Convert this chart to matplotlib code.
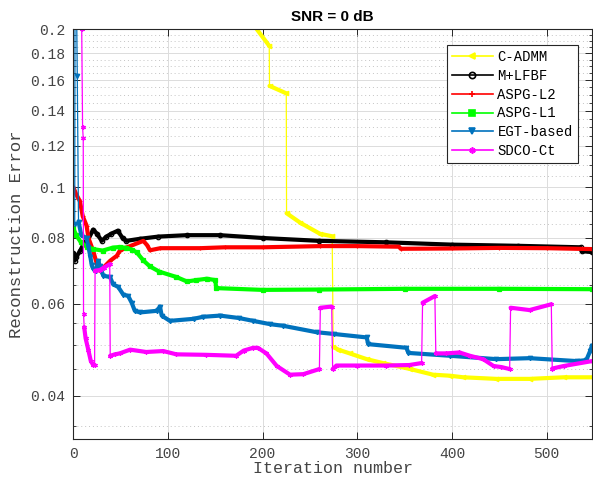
import numpy as np
import matplotlib
matplotlib.use("Agg")
import matplotlib.pyplot as plt
from matplotlib.lines import Line2D
from matplotlib.ticker import FixedLocator, FixedFormatter, NullFormatter

# ---- data (iteration, reconstruction error) ----
cadmm_x = [193, 207, 207.3, 225, 225.3, 240, 260.6, 273.5, 274.6, 280, 292, 310, 327, 356, 380,
           398, 412, 447, 482, 518, 548]
cadmm_y = [0.201, 0.186, 0.156, 0.151, 0.0892, 0.0855, 0.0815, 0.0806, 0.0496, 0.049, 0.0482,
           0.047, 0.0462, 0.045, 0.0439, 0.0437, 0.0434, 0.0431, 0.0431, 0.0434, 0.0434]

mlfbf_x = [0, 1.5, 3, 7, 12, 15, 21, 25, 30, 35, 40, 47, 52, 56, 70, 90, 120, 155, 200, 260, 330,
           400, 470, 536, 537, 548]
mlfbf_y = [0.0748, 0.0724, 0.0735, 0.0755, 0.0787, 0.079, 0.083, 0.0815, 0.079, 0.0805, 0.0815,
           0.0826, 0.0800, 0.079, 0.0797, 0.0805, 0.081, 0.081, 0.0800, 0.079, 0.0785, 0.0777,
           0.0773, 0.0768, 0.0755, 0.0752]

aspg2_x = [0, 3, 7, 10, 14, 16, 21, 25, 28, 33, 39, 46, 49, 56, 74, 78, 81, 92, 134, 160, 200, 261,
           300, 344, 346, 400, 450, 500, 548]
aspg2_y = [0.1, 0.097, 0.094, 0.088, 0.0845, 0.080, 0.0756, 0.0713, 0.0693, 0.0706, 0.0724, 0.074,
           0.0756, 0.0767, 0.079, 0.0775, 0.0758, 0.0765, 0.0765, 0.0768, 0.0768, 0.0772, 0.0772,
           0.0770, 0.0763, 0.0764, 0.0766, 0.0765, 0.0762]

aspg1_x = [0, 3, 8, 14, 21, 31, 42, 49, 56, 62, 67, 74, 81, 91, 109, 120, 130, 141, 150, 151, 200,
           260, 350, 450, 548]
aspg1_y = [0.0835, 0.081, 0.0785, 0.077, 0.0762, 0.0757, 0.0767, 0.0769, 0.0766, 0.076, 0.0751,
           0.0725, 0.0706, 0.069, 0.0674, 0.0661, 0.0665, 0.0669, 0.0665, 0.0642, 0.0637, 0.0638,
           0.064, 0.064, 0.0639]

egt_x = [1.5, 2, 4.2, 5.5, 8.5, 14, 16, 18, 19.5, 21, 24, 26.4, 28, 31.7, 38.8, 42, 47.5, 52.8, 58,
         61.7, 65, 70.4, 88, 91.6, 93.4, 102, 127, 137, 155, 175, 190, 208, 222, 257, 275, 310,
         311.5, 352, 354, 398, 447, 482, 532, 542, 546, 548]
egt_y = [0.085, 0.4, 0.163, 0.086, 0.081, 0.080, 0.077, 0.0737, 0.071, 0.0699, 0.0693, 0.0724,
         0.0706, 0.0678, 0.0674, 0.0653, 0.0645, 0.0624, 0.062, 0.0602, 0.0581, 0.0577, 0.0581,
         0.0592, 0.0569, 0.0556, 0.0561, 0.0566, 0.0569, 0.0563, 0.0556, 0.0548, 0.0544, 0.0529,
         0.0525, 0.0517, 0.0502, 0.0494, 0.0483, 0.0477, 0.047, 0.0472, 0.0466, 0.0468, 0.0487,
         0.0499]

sdco_x = [8.9, 9.8, 10.5, 10.8, 11.5, 13, 15.8, 18.5, 21, 22.5, 23, 28, 32, 38.5, 39, 44, 49, 60,
          77, 95, 109, 140, 172, 180, 190, 195, 204, 215, 229, 243, 260, 261, 273, 274, 278, 300,
          330, 355, 368, 369, 382, 383, 394, 408, 419, 433, 444, 452, 461, 462, 482, 505, 506, 518,
          548]
sdco_y = [0.2, 0.13, 0.124, 0.0573, 0.0541, 0.0515, 0.049, 0.0466, 0.0458, 0.0458, 0.0693, 0.0695,
          0.0702, 0.0713, 0.0477, 0.048, 0.0482, 0.049, 0.0485, 0.0487, 0.048, 0.0479, 0.0477,
          0.0488, 0.0494, 0.0494, 0.0482, 0.0456, 0.0439, 0.044, 0.045, 0.0589, 0.0592, 0.045,
          0.0457, 0.0457, 0.0457, 0.0458, 0.0462, 0.0602, 0.062, 0.0482, 0.0482, 0.0484, 0.0477,
          0.047, 0.0456, 0.0454, 0.045, 0.0589, 0.0583, 0.0598, 0.0451, 0.0456, 0.0466]

labels = ["C-ADMM", "M+LFBF", "ASPG-L2", "ASPG-L1", "EGT-based", "SDCO-Ct"]
yticks = [0.04, 0.06, 0.08, 0.1, 0.12, 0.14, 0.16, 0.18, 0.2]
ytick_labels = ["0.04", "0.06", "0.08", "0.1", "0.12", "0.14", "0.16", "0.18", "0.2"]
xticks = [0, 100, 200, 300, 400, 500]

series = [(cadmm_x, cadmm_y, "#FFFF00", "<", "#FFFF00"),
          (mlfbf_x, mlfbf_y, "#000000", "o", "none"),
          (aspg2_x, aspg2_y, "#FF0000", "+", "#FF0000"),
          (aspg1_x, aspg1_y, "#00FF00", "s", "#00FF00"),
          (egt_x, egt_y, "#0072BD", "v", "#0072BD"),
          (sdco_x, sdco_y, "#FF00FF", (6, 2, 0), "#FF00FF")]

MONO = "Liberation Mono"


def break_jumps(x, y, slope=0.05):
    # NaN between points where the curve jumps (drawn thin there, like the original)
    x = np.asarray(x, float); y = np.asarray(y, float)
    xs, ys = [x[0]], [y[0]]
    for i in range(1, len(x)):
        if abs(np.log(y[i] / y[i - 1])) / (x[i] - x[i - 1]) > slope:
            xs.append(np.nan); ys.append(np.nan)
        xs.append(x[i]); ys.append(y[i])
    return np.array(xs), np.array(ys)


fig = plt.figure(figsize=(5.93, 4.79), dpi=100)
ax = fig.add_axes([73.3 / 593, 40 / 479, (592 - 73.3) / 593, (439 - 29.3) / 479])

handles = []
for (x, y, c, m, mfc) in series:
    ax.plot(x, y, color=c, lw=0.9, marker=m, ms=3.2, mfc=mfc, mec=c, mew=0.9)
    bx, by = break_jumps(x, y)
    ax.plot(bx, by, color=c, lw=3.0, solid_capstyle="round")
    handles.append(Line2D([], [], color=c, lw=1.2, marker=m, ms=4.5, mfc=mfc, mec=c, mew=1.2))

ax.set_yscale("log")
ax.set_xlim(0, 548)
ax.set_ylim(0.0331, 0.2)

ax.yaxis.set_major_locator(FixedLocator(yticks))
ax.yaxis.set_major_formatter(FixedFormatter(ytick_labels))
minor = [round(v, 3) for v in np.arange(0.035, 0.2, 0.005) if round(v, 3) not in yticks]
ax.yaxis.set_minor_locator(FixedLocator(minor))
ax.yaxis.set_minor_formatter(NullFormatter())
ax.xaxis.set_major_locator(FixedLocator(xticks))

ax.grid(True, which="major", color="#dcdcdc", lw=0.7, ls="-")
ax.grid(True, which="minor", axis="y", color="#c4c4c4", lw=0.7, ls=(0, (1, 3)))
ax.set_axisbelow(True)

ax.tick_params(which="both", direction="in", top=True, right=True, colors="#262626",
               labelcolor="#444444", labelsize=10.5, pad=6)
ax.tick_params(which="major", length=5, width=0.7)
ax.tick_params(which="minor", length=2.5, width=0.6)
for lab in ax.get_xticklabels() + ax.get_yticklabels():
    lab.set_family(MONO)
for s in ax.spines.values():
    s.set_color("#262626"); s.set_linewidth(0.8)

ax.set_xlabel("Iteration number", family=MONO, fontsize=12, color="#444444", labelpad=0)
ax.set_ylabel("Reconstruction Error", family=MONO, fontsize=12.5, color="#444444", labelpad=4)
ax.set_title("SNR = 0 dB", family="Liberation Sans", fontweight="bold", fontsize=11, pad=6)

leg = ax.legend(handles, labels, loc="upper right", bbox_to_anchor=(0.9725, 0.9617),
                borderaxespad=0, prop={"family": MONO, "size": 10}, handlelength=3.0,
                handletextpad=0.3, labelspacing=0.35, borderpad=0.35, fancybox=False,
                framealpha=1, edgecolor="#262626")
leg.get_frame().set_linewidth(0.8)

fig.savefig("out.png", dpi=100)
